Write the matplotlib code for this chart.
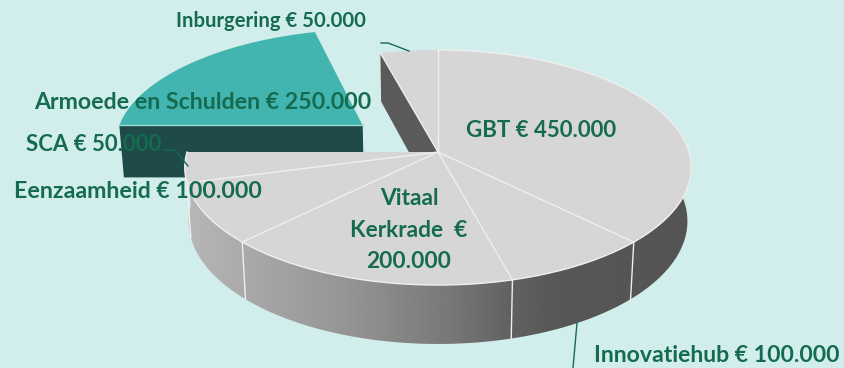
import numpy as np
import matplotlib
matplotlib.use('Agg')
import matplotlib.pyplot as plt
from matplotlib.patches import Polygon

plt.rcParams['font.family'] = ['Lato', 'DejaVu Sans']

# slices, clockwise from 12 o'clock (euro)
names = ['GBT', 'Innovatiehub', 'Vitaal Kerkrade', 'Eenzaamheid', 'SCA',
         'Armoede en Schulden', 'Inburgering']
values = [450000, 100000, 200000, 100000, 50000, 250000, 50000]
explode = [0, 0, 0, 0, 0, 0.39, 0]

# projection of the tilted pie onto the picture (pixels)
CX, CY = 438, 152
RX, RY = 251, 115.5
PERSP = 0.132
DEPTH = 54
DEPTH_PERSP = 0.015

BG = '#D2EEEC'
TOP_GREY = '#D6D6D6'
SEAM = '#EFEFEF'
TEAL = '#43B5B0'
TEAL_DARK = '#1E4A4A'
WALL = '#5A5A5A'
TEXT = '#156B50'


def project(theta, r=1.0, off=(0, 0), low=False):
    theta = np.radians(theta)
    u = off[0] + r*np.cos(theta)
    v = off[1] + r*np.sin(theta)
    d = 1 + PERSP*v + (DEPTH_PERSP if low else 0)
    x = CX + RX*u/d
    y = CY + (-RY*v + (DEPTH if low else 0))/d
    return np.column_stack([x, y])


# slice start/end angles
fracs = np.array(values)/sum(values)
edges = 90 - 360*np.concatenate([[0], np.cumsum(fracs)])

fig = plt.figure(figsize=(8.45, 3.68), dpi=100, facecolor=BG)
ax = fig.add_axes([0, 0, 1, 1])
ax.set_facecolor(BG)
ax.set_xlim(0, 845)
ax.set_ylim(368, 0)
ax.axis('off')

# inner wall of the last slice, seen through the gap
i_last = len(values)-1
wall_top = project(np.array([edges[i_last]]))
apex = project(np.array([0.0]), r=0)
apex_low = project(np.array([0.0]), r=0, low=True)
wall_low = project(np.array([edges[i_last]]), low=True)
ax.add_patch(Polygon(np.vstack([wall_top, apex, apex_low, wall_low]),
                     fc=WALL, ec='none', zorder=1))

# exploded slice
i_exp = int(np.argmax(explode))
mid = np.radians((edges[i_exp]+edges[i_exp+1])/2)
off = (explode[i_exp]*np.cos(mid), explode[i_exp]*np.sin(mid))
arc = np.linspace(edges[i_exp], edges[i_exp+1], 60)
front_top = project(np.array([edges[i_exp], edges[i_exp]]), r=np.array([0, 1]), off=off)
front_low = project(np.array([edges[i_exp], edges[i_exp]]), r=np.array([0, 1]), off=off, low=True)
ax.add_patch(Polygon(np.vstack([front_top, front_low[::-1]]), fc=TEAL_DARK, ec='none', zorder=2))
ax.add_patch(Polygon(np.vstack([project(np.array([0.0]), r=0, off=off), project(arc, off=off)]),
                     fc=TEAL, ec='none', zorder=3))
ax.plot(front_top[:, 0], front_top[:, 1], color='#9AD6D2', lw=1, zorder=3)

# outer side of the main pie, shaded left to right
side_angles = np.linspace(-180, 20, 200)
side = np.vstack([project(side_angles), project(side_angles, low=True)[::-1]])
side_patch = Polygon(side, fc='none', ec='none', zorder=4)
ax.add_patch(side_patch)
stop_x = [185, 250, 350, 450, 512, 560, 700]
stop_g = [0.72, 0.66, 0.58, 0.47, 0.38, 0.34, 0.33]
grad = np.interp(np.arange(180, 701), stop_x, stop_g)[None, :]
im = ax.imshow(grad, cmap='gray', vmin=0, vmax=1, extent=(180, 700, 360, 140),
               aspect='auto', zorder=4)
im.set_clip_path(side_patch)
ax.set_xlim(0, 845)
ax.set_ylim(368, 0)

# top of the main pie
keep = [i for i in range(len(values)) if explode[i] == 0]
top_pts = np.vstack([project(np.linspace(edges[0], edges[i_exp], 200)), apex,
                     project(np.linspace(edges[i_exp+1], edges[-1], 30))])
ax.add_patch(Polygon(top_pts, fc=TOP_GREY, ec='none', zorder=5))
rim = project(np.linspace(edges[0], edges[i_exp], 200))
ax.plot(rim[:, 0], rim[:, 1], color=SEAM, lw=1, zorder=6)

# seams between slices
for i in keep:
    a = edges[i]
    p = project(np.array([a]))
    ax.plot([CX, p[0, 0]], [CY, p[0, 1]], color=SEAM, lw=1, zorder=6)
    if -180 < a < 0:
        q = project(np.array([a]), low=True)
        ax.plot([p[0, 0], q[0, 0]], [p[0, 1], q[0, 1]], color=SEAM, lw=1, zorder=6)

# leader lines
ax.plot([381, 388, 409], [43, 43, 51], color=TEXT, lw=1, zorder=7)
ax.plot([165, 175, 188], [150, 150, 166], color=TEXT, lw=1, zorder=7)
ax.plot([577, 573], [323, 368], color=TEXT, lw=1, zorder=7)

# labels
ax.text(176, 27, 'Inburgering € 50.000', color=TEXT, fontsize=14.6, fontweight='bold', zorder=8)
ax.text(34, 109, 'Armoede en Schulden € 250.000', color=TEXT, fontsize=16.7, fontweight='bold', zorder=8)
ax.text(26, 151, 'SCA € 50.000', color=TEXT, fontsize=16, fontweight='bold', zorder=8)
ax.text(14, 198, 'Eenzaamheid € 100.000', color=TEXT, fontsize=16.7, fontweight='bold', zorder=8)
ax.text(466, 137, 'GBT € 450.000', color=TEXT, fontsize=16, fontweight='bold', zorder=8)
ax.text(409, 205, 'Vitaal', color=TEXT, fontsize=16.4, fontweight='bold', ha='center', zorder=8)
ax.text(409, 237, 'Kerkrade  €', color=TEXT, fontsize=16.4, fontweight='bold', ha='center', zorder=8)
ax.text(409, 268, '200.000', color=TEXT, fontsize=16.4, fontweight='bold', ha='center', zorder=8)
ax.text(594, 362, 'Innovatiehub € 100.000', color=TEXT, fontsize=16.6, fontweight='bold', zorder=8)

fig.savefig('out.png', dpi=100, facecolor=BG)
